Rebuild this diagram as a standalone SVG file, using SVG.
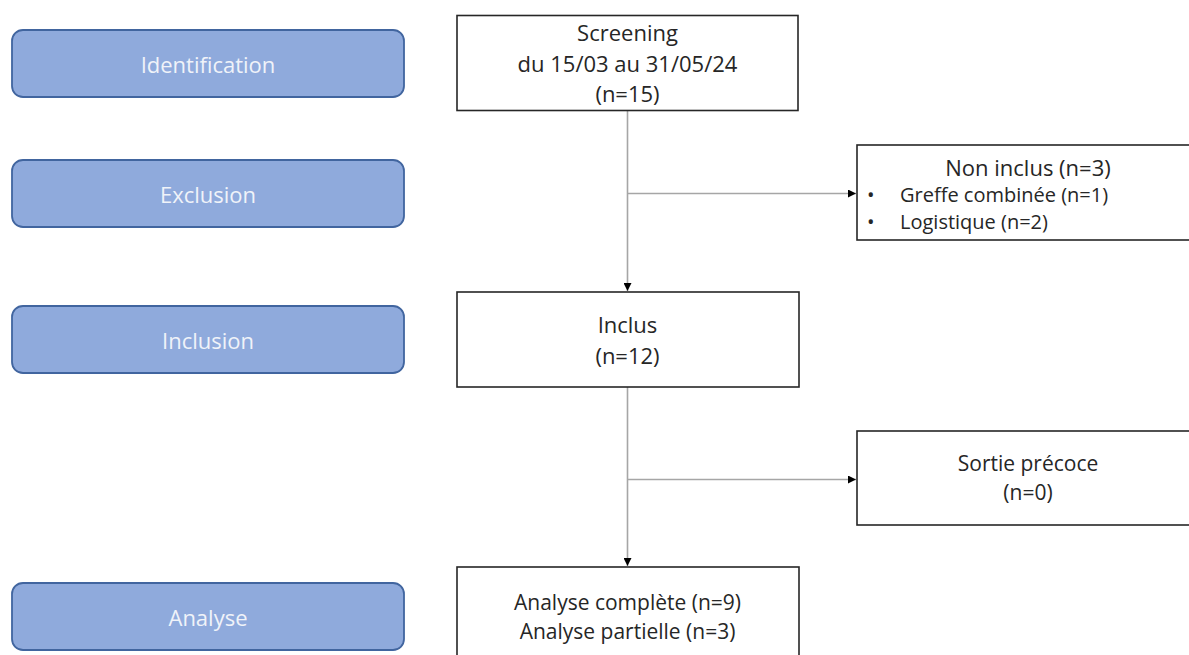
<svg xmlns="http://www.w3.org/2000/svg" width="1189" height="655" viewBox="0 0 1189 655">
<style>
.phase{fill:#8faadc;stroke:#41659f;stroke-width:1.8}
.phase-t{font-family:"Open Sans","Liberation Sans",sans-serif;font-size:22px;fill:#f0f3f9;text-anchor:middle;dominant-baseline:central}
.box{fill:#ffffff;stroke:#262626;stroke-width:1.6}
.t{font-family:"Open Sans","Liberation Sans",sans-serif;font-size:22px;fill:#262626;text-anchor:middle}
.t2{font-family:"Open Sans","Liberation Sans",sans-serif;font-size:21px;fill:#262626;text-anchor:middle}
.s{font-family:"Open Sans","Liberation Sans",sans-serif;font-size:20px;fill:#262626}
.conn{stroke:#a6a6a6;stroke-width:1.6;fill:none}
</style>
<defs>
<marker id="arr" viewBox="0 0 10 10" refX="10" refY="5" markerWidth="8" markerHeight="8" markerUnits="userSpaceOnUse" orient="auto">
<path d="M0,0 L10,5 L0,10 Z" fill="#000"/>
</marker>
</defs>
<rect width="1189" height="655" fill="#ffffff"/>

<g id="phase-identification">
<rect class="phase" x="12" y="30" width="392" height="67" rx="11"/>
<text class="phase-t" x="208" y="64">Identification</text>
</g>
<g id="phase-exclusion">
<rect class="phase" x="12" y="160" width="392" height="67" rx="11"/>
<text class="phase-t" x="208" y="194">Exclusion</text>
</g>
<g id="phase-inclusion">
<rect class="phase" x="12" y="306" width="392" height="67" rx="11"/>
<text class="phase-t" x="208" y="340">Inclusion</text>
</g>
<g id="phase-analyse">
<rect class="phase" x="12" y="583" width="392" height="67" rx="11"/>
<text class="phase-t" x="208" y="617">Analyse</text>
</g>

<g id="connectors">
<path class="conn" d="M627.5,110 V291" marker-end="url(#arr)"/>
<path class="conn" d="M627.5,193.5 H856" marker-end="url(#arr)"/>
<path class="conn" d="M627.5,387 V566" marker-end="url(#arr)"/>
<path class="conn" d="M627.5,479.5 H856" marker-end="url(#arr)"/>
</g>

<g id="screening">
<rect class="box" x="457" y="15.5" width="341" height="95"/>
<text class="t" x="627.5" y="41">Screening</text>
<text class="t" x="627.5" y="72">du 15/03 au 31/05/24</text>
<text class="t" x="627.5" y="102">(n=15)</text>
</g>

<g id="non-inclus">
<rect class="box" x="857" y="145" width="340" height="95"/>
<text class="t" x="1028" y="176">Non inclus (n=3)</text>
<text class="s" x="867" y="202">•</text>
<text class="s" x="900" y="202">Greffe combinée (n=1)</text>
<text class="s" x="867" y="229">•</text>
<text class="s" x="900" y="229">Logistique (n=2)</text>
</g>

<g id="inclus">
<rect class="box" x="457" y="292" width="342" height="95"/>
<text class="t" x="627.5" y="333">Inclus</text>
<text class="t" x="627.5" y="364">(n=12)</text>
</g>

<g id="sortie">
<rect class="box" x="857" y="431" width="340" height="94"/>
<text class="t2" x="1028" y="471">Sortie précoce</text>
<text class="t2" x="1028" y="500">(n=0)</text>
</g>

<g id="analyse">
<rect class="box" x="457" y="567" width="342" height="100"/>
<text class="t2" x="627.5" y="610">Analyse complète (n=9)</text>
<text class="t2" x="627.5" y="639">Analyse partielle (n=3)</text>
</g>
</svg>
